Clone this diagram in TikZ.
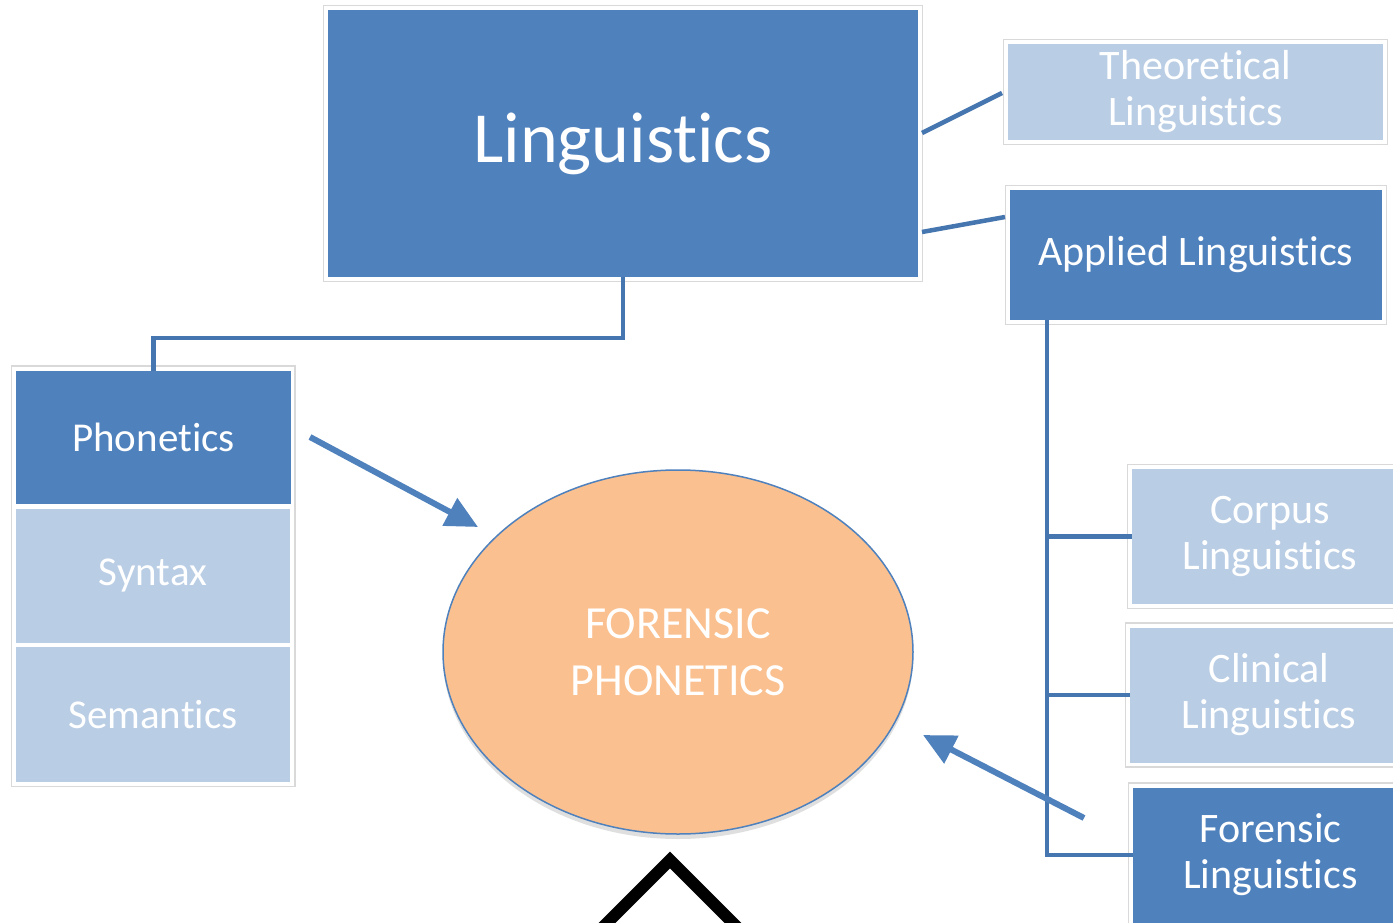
\documentclass[tikz,border=0pt]{standalone}
\usepackage{fontspec}
\setmainfont{Carlito}[Ligatures=NoCommon, Contextuals=NoAlternate]
\usetikzlibrary{shadows,arrows.meta,shapes.geometric}
\definecolor{dblue}{HTML}{4F81BD}
\definecolor{lblue}{HTML}{B9CDE5}
\definecolor{lineblue}{HTML}{4676B0}
\definecolor{peach}{HTML}{FAC08F}
\begin{document}
\begin{tikzpicture}[x=1pt,y=-1pt,
  box/.style={rectangle, inner sep=0pt, outer sep=0pt, text=white, align=center,
    font=\fontsize{42}{46}\selectfont},
  dark/.style={box, fill=dblue},
  light/.style={box, fill=lblue},
  frame/.style={draw=black!15, line width=1.2pt},
  conn/.style={draw=lineblue, line width=4.5pt},
  arr/.style={draw=dblue, line width=6pt, -{Triangle[length=32pt,width=30pt]}}]
\clip (0,0) rectangle (1393,923);
\fill[white] (0,0) rectangle (1393,923);
% main boxes
\node[dark, minimum width=590pt, minimum height=267pt, font=\fontsize{72}{80}\selectfont] (ling) at (623,143.5) {Lin\-guis\-tics};
\node[light, minimum width=375pt, minimum height=96pt] (theo) at (1195.5,92) {Theoretical\\Linguistics};
\node[dark, minimum width=372pt, minimum height=130pt] (appl) at (1196,255) {Applied Linguistics};
\node[dark, minimum width=275pt, minimum height=133pt, font=\fontsize{41}{46}\selectfont] (phon) at (153.5,437) {Phonetics};
\node[light, minimum width=274pt, minimum height=134pt, font=\fontsize{41}{46}\selectfont] (syn) at (153,575.5) {Syntax};
\node[light, minimum width=274pt, minimum height=135pt, font=\fontsize{41}{46}\selectfont] (sem) at (153,714.5) {Semantics};
\node[light, minimum width=276pt, minimum height=135pt] (corp) at (1270,536.5) {Corpus\\Linguistics};
\node[light, minimum width=278pt, minimum height=135pt] (clin) at (1269,695) {Clinical\\Linguistics};
\node[dark, minimum width=275pt, minimum height=135pt] (foren) at (1270.5,855) {Forensic\\Linguistics};
% frames
\foreach \n in {ling,theo,appl,corp,clin,foren}
  \draw[frame] ([xshift=-4.5pt,yshift=4.5pt]\n.north west) rectangle ([xshift=4.5pt,yshift=-4.5pt]\n.south east);
\draw[frame] ([xshift=-4.5pt,yshift=4.5pt]phon.north west) rectangle ([xshift=5pt,yshift=-4.5pt]sem.south east);
% ellipse
\node[ellipse, minimum width=470pt, minimum height=364pt, fill=peach, draw=dblue, line width=1.5pt,
  drop shadow={shadow xshift=0pt, shadow yshift=-5pt, opacity=0.25},
  text=white, align=center, font=\fontsize{46}{57}\selectfont] (fp) at (678,652) {FORENSIC\\PHONETICS};
% connectors
\draw[conn] ([xshift=4pt,yshift=10.5pt]ling.east) -- ([xshift=-6pt,yshift=-1pt]theo.west);
\draw[conn] ([xshift=4pt,yshift=-88.5pt]ling.east) -- ([xshift=-5pt,yshift=38pt]appl.west);
\draw[conn] (ling.south) -- ++(0,61) -| (phon.north);
\coordinate (trunk) at ([xshift=-149pt]appl.south);
\draw[conn] (trunk) |- (foren.west);
\draw[conn] (corp.west) -- (corp.west -| trunk);
\draw[conn] (clin.west) -- (clin.west -| trunk);
% arrows
\coordinate (a1s) at (310,437);
\coordinate (a1e) at (478,527);
\coordinate (a2s) at (1084,818);
\coordinate (a2e) at (923,735);
\draw[arr] (a1s) -- (a1e);
\draw[arr] (a2s) -- (a2e);
% partial black shape at the bottom
\draw[line width=12pt, miter limit=10] (596,934) -- (670,860) -- (744,934);
\end{tikzpicture}
\end{document}
